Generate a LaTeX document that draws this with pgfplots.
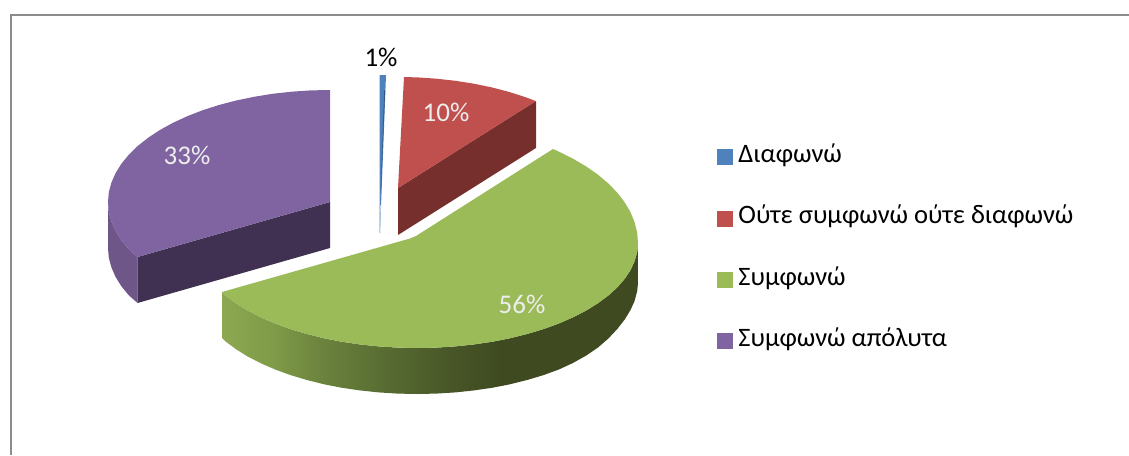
\documentclass[border=0pt]{standalone}
\usepackage{pgfplots}
\usepackage{fontspec}
\setmainfont{Carlito}
\pgfplotsset{compat=1.18}
\definecolor{cblue}{HTML}{4F81BD}
\definecolor{cred}{HTML}{C0504D}
\definecolor{cgreen}{HTML}{9BBB59}
\definecolor{cpurple}{HTML}{8064A2}
\definecolor{credd}{HTML}{772F2D}
\definecolor{cpurd}{HTML}{403152}
\definecolor{cpurs}{HTML}{6F5689}
\definecolor{cframe}{HTML}{8C8C8C}
\definecolor{clab}{HTML}{EDEDED}
\pgfdeclarehorizontalshading{sidegreen}{100bp}{
 rgb(0bp)=(0.549,0.659,0.314);
 rgb(25bp)=(0.549,0.659,0.314);
 rgb(31bp)=(0.502,0.608,0.286);
 rgb(37bp)=(0.420,0.514,0.239);
 rgb(45.2bp)=(0.337,0.416,0.192);
 rgb(53bp)=(0.278,0.333,0.153);
 rgb(58.4bp)=(0.247,0.290,0.129);
 rgb(75bp)=(0.247,0.290,0.129);
 rgb(100bp)=(0.247,0.290,0.129)}
\begin{document}
\begin{tikzpicture}
\begin{axis}[
  scale only axis, width=1129pt, height=455pt,
  hide axis, xmin=0, xmax=1129, ymin=0, ymax=455, y dir=reverse,
  legend style={at={(axis cs:717,145.5)}, anchor=north west, draw=none, fill=none,
    font=\fontsize{26.6}{26.6}\selectfont, row sep=38.3pt, inner sep=0pt, outer sep=0pt,
    nodes={inner sep=0pt, text height=17pt, text depth=6pt}},
  legend cell align=left,
]
\addlegendimage{legend image code/.code={\fill[cblue] (0pt,-7.5pt) rectangle (15pt,7.5pt); \path (21pt,0pt);}}
\addlegendimage{legend image code/.code={\fill[cred] (0pt,-7.5pt) rectangle (15pt,7.5pt); \path (21pt,0pt);}}
\addlegendimage{legend image code/.code={\fill[cgreen] (0pt,-7.5pt) rectangle (15pt,7.5pt); \path (21pt,0pt);}}
\addlegendimage{legend image code/.code={\fill[cpurple] (0pt,-7.5pt) rectangle (15pt,7.5pt); \path (21pt,0pt);}}
\addlegendentry{Διαφωνώ}
\addlegendentry{Ούτε συμφωνώ ούτε διαφωνώ}
\addlegendentry{Συμφωνώ}
\addlegendentry{Συμφωνώ απόλυτα}

\path (rel axis cs:0,0) rectangle (rel axis cs:1,1);

% frame
\addplot[cframe, line width=2pt, forget plot] coordinates {(1129,15) (11,15) (11,455)};

% purple slice
\addplot[fill=cpurs, draw=none, forget plot] coordinates {
 (108,202) (108.8,211.8) (111.4,221.4) (115.6,231) (121.4,240.3) (128.8,249.3) (137.5,257)
 (137.5,303) (128.8,295.3) (121.4,286.3) (115.6,277) (111.4,267.4) (108.8,257.8) (108,248)} --cycle;
\addplot[fill=cpurd, draw=none, forget plot] coordinates {(137.5,257) (330,202) (330,248) (137.5,303)} --cycle;
\addplot[fill=cpurple, draw=none, forget plot] coordinates {
 (330,202) (330,90) (310.6,90.4) (291.5,91.7) (272.5,93.8) (254.1,96.8) (236.2,100.5) (219,105)
 (202.7,110.2) (187.3,116.2) (173,122.8) (159.9,130) (148.1,137.8) (137.7,146) (128.8,154.7)
 (121.4,163.7) (115.6,173) (111.4,182.6) (108.8,192.2) (108,202) (108.8,211.8) (111.4,221.4)
 (115.6,231) (121.4,240.3) (128.8,249.3) (137.5,257)} --cycle;

% blue slice
\addplot[fill=cblue, draw=none, forget plot] coordinates {(379.5,75) (386,75) (380,233) (379.5,233)} --cycle;
\addplot[fill=cblue!70!black, draw=none, forget plot] coordinates {(384.2,90) (385.2,90) (381,190) (380.6,190)} --cycle;
\addplot[fill=cblue!40!white, draw=none, forget plot] coordinates {(379.6,205) (381,205) (380,233) (379.6,233)} --cycle;

% red slice
\addplot[fill=credd, draw=none, forget plot] coordinates {(398,188) (536,101) (536,148) (398,235)} --cycle;
\addplot[fill=cred, draw=none, forget plot] coordinates {
 (398,188) (404,77) (417.4,77.4) (436.5,78.7) (455.5,80.8) (473.9,83.7) (491.8,87.4) (509,91.9) (525.3,97.1) (536,101.1)} --cycle;

% green slice
\addplot[draw=none, shade, shading=sidegreen, forget plot] coordinates {
 (638,243) (637.2,252.2) (634.6,261.2) (630.5,270.2) (624.7,278.9) (617.3,287.4) (608.4,295.5)
 (598,303.2) (586.3,310.5) (573.3,317.2) (559.1,323.4) (543.8,329) (527.5,333.9) (510.4,338.2)
 (492.6,341.7) (474.2,344.4) (455.4,346.4) (436.3,347.6) (417,348) (397.7,347.6) (378.6,346.4)
 (359.8,344.4) (341.4,341.7) (323.6,338.2) (306.5,333.9) (290.2,329) (274.9,323.4) (260.7,317.2)
 (247.7,310.5) (236,303.2) (225.6,295.5) (222,292)
 (222,338) (225.6,341.5) (236,349.2) (247.7,356.5) (260.7,363.2) (274.9,369.4) (290.2,375)
 (306.5,379.9) (323.6,384.2) (341.4,387.7) (359.8,390.4) (378.6,392.4) (397.7,393.6) (417,394)
 (436.3,393.6) (455.4,392.4) (474.2,390.4) (492.6,387.7) (510.4,384.2) (527.5,379.9) (543.8,375)
 (559.1,369.4) (573.3,362.8) (586.3,355.5) (598,347.5) (608.4,338.5) (617.3,329) (624.7,319.5)
 (630.5,310) (634.6,301) (637.2,291) (638,283)} --cycle;
\addplot[fill=cgreen, draw=none, forget plot] coordinates {
 (222,292) (410,238.5) (416,236) (553,149) (559.1,151.8) (573.3,158.9) (586.3,166.5) (598,174.7)
 (608.4,183.5) (617.3,192.7) (624.7,202.3) (630.5,212.2) (634.6,222.3) (637.2,232.6) (638,243)
 (637.2,252.2) (634.6,261.2) (630.5,270.2) (624.7,278.9) (617.3,287.4) (608.4,295.5) (598,303.2)
 (586.3,310.5) (573.3,317.2) (559.1,323.4) (543.8,329) (527.5,333.9) (510.4,338.2) (492.6,341.7)
 (474.2,344.4) (455.4,346.4) (436.3,347.6) (417,348) (397.7,347.6) (378.6,346.4) (359.8,344.4)
 (341.4,341.7) (323.6,338.2) (306.5,333.9) (290.2,329) (274.9,323.4) (260.7,317.2) (247.7,310.5)
 (236,303.2) (225.6,295.5)} --cycle;

% labels
\node[font=\fontsize{27}{27}\selectfont, text=black] at (axis cs:381,57) {1\%};
\node[font=\fontsize{27}{27}\selectfont, text=clab] at (axis cs:446,112) {10\%};
\node[font=\fontsize{27}{27}\selectfont, text=clab] at (axis cs:522,304) {56\%};
\node[font=\fontsize{27}{27}\selectfont, text=clab] at (axis cs:187,155) {33\%};
\end{axis}
\end{tikzpicture}
\end{document}
